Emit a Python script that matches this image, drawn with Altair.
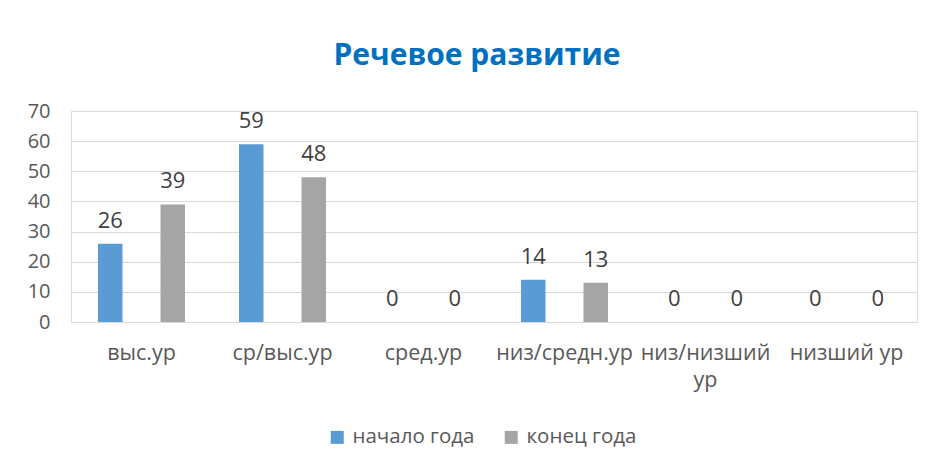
import altair as alt
import pandas as pd

categories = ["выс.ур", "ср/выс.ур", "сред.ур", "низ/средн.ур", "низ/низший ур", "низший ур"]
series = ["начало года", "конец года"]
start_values = [26, 59, 0, 14, 0, 0]
end_values = [39, 48, 0, 13, 0, 0]
y_ticks = [0, 10, 20, 30, 40, 50, 60, 70]
colors = ["#5B9BD5", "#A5A5A5"]

rows = []
for c, a, b in zip(categories, start_values, end_values):
    rows.append({"cat": c, "series": series[0], "value": a})
    rows.append({"cat": c, "series": series[1], "value": b})
df = pd.DataFrame(rows)

FONT = "Open Sans"
LABEL = "#595959"

x = alt.X(
    "cat:N", sort=categories,
    scale=alt.Scale(paddingInner=0, paddingOuter=0),
    axis=alt.Axis(
        title=None, labelAngle=0, ticks=False, domain=True, domainColor="#D9D9D9",
        labelFont=FONT, labelFontSize=21.5, labelColor=LABEL, labelPadding=20,
        labelLineHeight=27,
        labelExpr="datum.label == 'низ/низший ур' ? ['низ/низший', 'ур'] : datum.label",
    ),
)
xo = alt.XOffset("series:N", sort=series,
                 scale=alt.Scale(paddingInner=0.608, paddingOuter=0.432))
y = alt.Y(
    "value:Q",
    scale=alt.Scale(domain=[0, 70], nice=False),
    axis=alt.Axis(
        title=None, values=y_ticks, ticks=False, domain=False,
        grid=True, gridColor="#D9D9D9", gridWidth=1,
        labelFont=FONT, labelFontSize=20, labelColor=LABEL, labelPadding=21,
    ),
)
color = alt.Color(
    "series:N", sort=series,
    scale=alt.Scale(domain=series, range=colors),
    legend=alt.Legend(
        title=None, orient="none", direction="horizontal",
        legendX=256, legendY=316,
        symbolType="square", symbolSize=169, symbolStrokeWidth=0,
        labelFont=FONT, labelFontSize=20.5, labelColor=LABEL,
        labelOffset=5, columnPadding=26,
    ),
)

base = alt.Chart(df)
bars = base.mark_bar().encode(x=x, xOffset=xo, y=y, color=color)
labels = base.mark_text(
    font=FONT, fontSize=22, color="#404040", baseline="alphabetic", dy=-16
).encode(x=x, xOffset=xo, y=y, text=alt.Text("value:Q"))

chart = (
    alt.layer(bars, labels)
    .properties(
        width=846, height=211,
        autosize=alt.AutoSizeParams(type="none"),
        padding={"left": 63, "top": 103, "right": 8, "bottom": 130},
        title=alt.TitleParams(
            "Речевое развитие", font=FONT, fontSize=30, fontWeight="bold",
            color="#0070C0", anchor="middle", frame="group", offset=30, dx=-17,
        ),
    )
    .configure_view(stroke=None)
    .configure(background="white")
)

chart.save("out.html", embed_options={"renderer": "svg", "actions": False})
